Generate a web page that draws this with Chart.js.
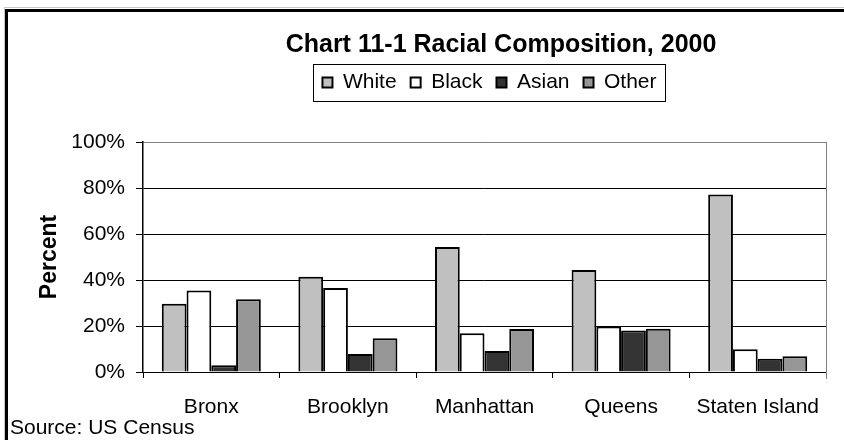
<!DOCTYPE html>
<html>
<head>
<meta charset="utf-8">
<script src="https://cdn.jsdelivr.net/npm/chart.js@4/dist/chart.umd.min.js"></script>
<style>
html,body{margin:0;padding:0;background:#fff;}
#wrap{width:844px;height:440px;position:relative;}
</style>
</head>
<body>
<div id="wrap"><canvas id="c" width="844" height="440"></canvas></div>
<script>
// ---- data ----
const categories = ['Bronx', 'Brooklyn', 'Manhattan', 'Queens', 'Staten Island'];
const seriesNames = ['White', 'Black', 'Asian', 'Other'];
const whiteValues = [29.7, 41.4, 54.3, 44.4, 77.2];
const blackValues = [35.4, 36.5, 16.9, 19.8, 9.9];
const asianValues = [2.9, 7.8, 9.1, 18.0, 5.8];
const otherValues = [31.6, 14.7, 18.7, 18.8, 6.9];
const yTickValues = [0, 20, 40, 60, 80, 100];
const titleText = 'Chart 11-1 Racial Composition, 2000';
const yAxisTitle = 'Percent';
const sourceText = 'Source: US Census';

// ---- styling ----
const FONT = "'Liberation Sans', Arial, Helvetica, sans-serif";
const seriesColors = ['#C0C0C0', '#FFFFFF', '#333333', '#969696'];
const seriesData = [whiteValues, blackValues, asianValues, otherValues];

const TITLE_SIZE = 25;
const LEGEND_SIZE = 21;
const LEGEND_PAD = 14;
const TEXT_SIZE = 21;

const layoutPlugin = {
  id: 'layoutTweaks',
  beforeDraw(chart) {
    const ctx = chart.ctx;
    ctx.save();
    ctx.fillStyle = '#ffffff';
    ctx.fillRect(0, 0, chart.width, chart.height);
    ctx.fillStyle = '#c8c8c8';
    ctx.fillRect(4, 7, chart.width, 1);
    ctx.fillRect(4, 7, 1, chart.height);
    ctx.fillStyle = '#000000';
    ctx.fillRect(5, 9, chart.width, 3);
    ctx.fillRect(5, 9, 3, chart.height);
    ctx.restore();
  },
  afterLayout(chart) {
    const t = chart.titleBlock;
    if (t) {
      const dx = 501 - (t.left + t.right) / 2;
      t.left += dx; t.right += dx;
      const dy = 45 - (t.top + TITLE_SIZE * 1.2 / 2);
      t.top += dy; t.bottom += dy;
    }
    const l = chart.legend;
    if (l) {
      const dx = 489.5 - (l.left + l.right) / 2;
      l.left += dx; l.right += dx;
      const dy = 82.5 - (l.top + LEGEND_PAD + LEGEND_SIZE / 2);
      l.top += dy; l.bottom += dy;
    }
    const sub = chart.boxes.find(b => b !== t && b.options && b.options.text === sourceText);
    if (sub) {
      const dx = 10 - sub.left;
      sub.left += dx; sub.right += dx;
      const dy = 428 - (sub.top + TEXT_SIZE / 2);
      sub.top += dy; sub.bottom += dy;
    }
  },
  beforeDatasetsDraw(chart) {
    const {ctx, chartArea} = chart;
    ctx.save();
    ctx.strokeStyle = '#808080';
    ctx.lineWidth = 1;
    ctx.beginPath();
    ctx.moveTo(Math.round(chartArea.right) + 0.5, chartArea.top);
    ctx.lineTo(Math.round(chartArea.right) + 0.5, chartArea.bottom + 7);
    ctx.stroke();
    ctx.restore();
  },
  afterDraw(chart) {
    const l = chart.legend;
    if (!l || !l.legendHitBoxes || !l.legendHitBoxes.length) return;
    const hb = l.legendHitBoxes;
    const left = Math.min(...hb.map(h => h.left));
    const right = Math.max(...hb.map(h => h.left + h.width));
    const cy = 82.5;
    const ctx = chart.ctx;
    ctx.save();
    ctx.strokeStyle = '#000';
    ctx.lineWidth = 1;
    ctx.strokeRect(Math.round(left - 9) + 0.5, Math.round(cy - 19) + 0.5,
      Math.round(right - left + 18), 37);
    ctx.restore();
  }
};

const chart = new Chart(document.getElementById('c'), {
  type: 'bar',
  data: {
    labels: categories,
    datasets: seriesNames.map((name, i) => ({
      label: name,
      data: seriesData[i],
      backgroundColor: seriesColors[i],
      borderColor: '#000000',
      borderWidth: 2,
      categoryPercentage: 0.725,
      barPercentage: 1.0
    }))
  },
  options: {
    responsive: false,
    devicePixelRatio: 1,
    animation: false,
    layout: { padding: { top: 67, right: 18, bottom: 0, left: 0 } },
    plugins: {
      tooltip: { enabled: false },
      title: {
        display: true,
        text: titleText,
        color: '#000',
        font: { family: FONT, size: TITLE_SIZE, weight: 'bold' },
        padding: 0
      },
      legend: {
        display: true,
        position: 'top',
        labels: {
          color: '#000',
          font: { family: FONT, size: LEGEND_SIZE },
          boxWidth: 10,
          boxHeight: 10,
          padding: LEGEND_PAD
        }
      },
      subtitle: {
        display: true,
        position: 'bottom',
        align: 'start',
        text: sourceText,
        color: '#000',
        font: { family: FONT, size: TEXT_SIZE, weight: 'normal', lineHeight: 1 },
        padding: 0
      }
    },
    scales: {
      x: {
        offset: true,
        grid: {
          offset: true,
          drawOnChartArea: false,
          drawTicks: true,
          tickLength: 6,
          color: '#000'
        },
        border: { display: true, color: '#000', width: 1 },
        ticks: {
          color: '#000',
          font: { family: FONT, size: TEXT_SIZE },
          padding: 17,
          maxRotation: 0,
          autoSkip: false
        },
        afterFit(scale) { scale.height = 440 - 372 - TEXT_SIZE; }
      },
      y: {
        min: 0,
        max: 100,
        afterBuildTicks(scale) { scale.ticks = yTickValues.map(v => ({ value: v })); },
        grid: {
          color: ctx => (ctx.tick && ctx.tick.value === 100) ? '#808080' : '#000',
          lineWidth: 1,
          tickLength: 7,
          tickColor: '#000'
        },
        border: { display: true, color: '#000', width: 1.5 },
        ticks: {
          color: '#000',
          font: { family: FONT, size: TEXT_SIZE },
          padding: 11,
          callback: v => v + '%'
        },
        title: {
          display: true,
          text: yAxisTitle,
          color: '#000',
          font: { family: FONT, size: 23, weight: 'bold' },
          padding: { top: 36, bottom: 0 }
        },
        afterFit(scale) { scale.width = 143; }
      }
    }
  },
  plugins: [layoutPlugin]
});
</script>
</body>
</html>
